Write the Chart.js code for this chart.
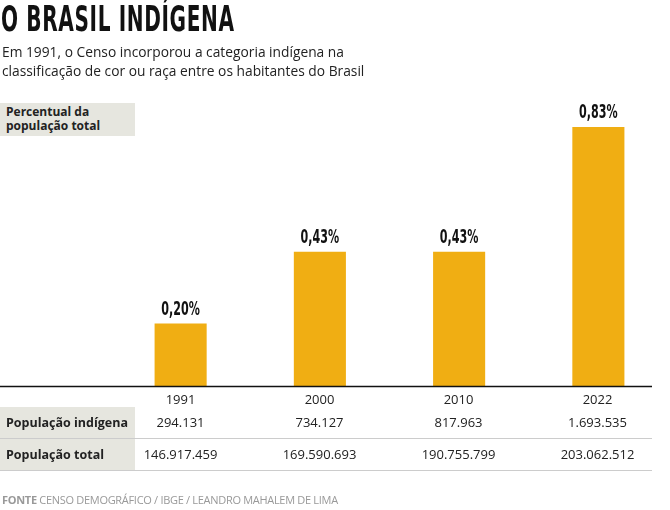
<!DOCTYPE html>
<html><head><meta charset="utf-8">
<script src="https://cdn.jsdelivr.net/npm/chart.js@4"></script>
<style>
body{margin:0;width:670px;height:510px;background:#fff;font-family:"Open Sans",sans-serif;position:relative;overflow:hidden;color:#222}
#c{position:absolute;left:0;top:0}
.t{position:absolute;left:1px;top:-2px;font-family:"DejaVu Sans Condensed";font-size:36px;font-weight:bold;transform:scaleX(.62);transform-origin:left;letter-spacing:1px;color:#111;white-space:nowrap}
.sub{position:absolute;left:2px;top:42px;font-size:14.5px;line-height:19px;color:#222;transform:scaleX(.95);transform-origin:left;white-space:nowrap}
.lab{position:absolute;left:0;top:103px;width:135px;height:33px;background:#e6e6df;font-size:12px;font-weight:bold;line-height:14px;padding:2px 0 0 6px;box-sizing:border-box}
.yr,.cell{position:absolute;width:139px;text-align:center;font-size:13px}
.row{position:absolute;left:0;width:652px;height:31px;border-bottom:1px solid #ccc}
.rl{position:absolute;left:0;top:0;width:135px;height:31px;background:#e6e6df;font-size:12.5px;font-weight:bold;line-height:31px;padding-left:6px;box-sizing:border-box}
.src{position:absolute;left:2px;top:492px;font-size:11px;color:#999;letter-spacing:-.3px}
</style></head><body>
<canvas id="c" width="670" height="510"></canvas>
<div class="t">O BRASIL INDÍGENA</div>
<div class="sub">Em 1991, o Censo incorporou a categoria indígena na<br>classificação de cor ou raça entre os habitantes do Brasil</div>
<div class="lab">Percentual da<br>população total</div>
<div id="tbl"></div>
<div class="src"><b>FONTE</b> CENSO DEMOGRÁFICO / IBGE / LEANDRO MAHALEM DE LIMA</div>
<script>
const years = ['1991', '2000', '2010', '2022'];
const percent = [0.20, 0.43, 0.43, 0.83];
const indigenous = ['294.131', '734.127', '817.963', '1.693.535'];
const total = ['146.917.459', '169.590.693', '190.755.799', '203.062.512'];

const tbl = document.getElementById('tbl');
let html = '';
years.forEach((y, i) => {
    html += `<div class="yr" style="left:${111 + i * 139}px;top:390px">${y}</div>`;
});
[['População indígena', indigenous, 407], ['População total', total, 439]].forEach(([name, vals, top]) => {
    html += `<div class="row" style="top:${top}px"><div class="rl">${name}</div>`;
    vals.forEach((v, i) => {
        html += `<div class="cell" style="left:${111 + i * 139}px;top:0;line-height:31px">${v}</div>`;
    });
    html += '</div>';
});
tbl.innerHTML = html;

const labelsPlugin = {
    id: 'labels',
    afterDatasetsDraw(chart) {
        const c = chart.ctx;
        c.save();
        c.font = 'bold 19px "DejaVu Sans Condensed"';
        c.fillStyle = '#111';
        c.textAlign = 'center';
        c.textBaseline = 'bottom';
        chart.getDatasetMeta(0).data.forEach((bar, i) => {
            c.save();
            c.translate(bar.x, bar.y - 4);
            c.scale(0.65, 1);
            c.fillText(percent[i].toFixed(2).replace('.', ',') + '%', 0, 0);
            c.restore();
        });
        c.strokeStyle = '#111';
        c.lineWidth = 1.5;
        c.beginPath();
        c.moveTo(0, chart.chartArea.bottom + 0.5);
        c.lineTo(652, chart.chartArea.bottom + 0.5);
        c.stroke();
        c.restore();
    }
};

new Chart(document.getElementById('c'), {
    type: 'bar',
    data: {
        labels: years,
        datasets: [{
            data: percent,
            backgroundColor: '#f0ae13',
            barPercentage: 0.374,
            categoryPercentage: 1
        }]
    },
    options: {
        responsive: false,
        animation: false,
        layout: { padding: { left: 111, right: 2, top: 100, bottom: 124 } },
        plugins: { legend: { display: false }, tooltip: { enabled: false } },
        scales: {
            x: { display: false },
            y: { display: false, min: 0, max: 0.9165 }
        }
    },
    plugins: [labelsPlugin]
});
</script>
</body></html>
